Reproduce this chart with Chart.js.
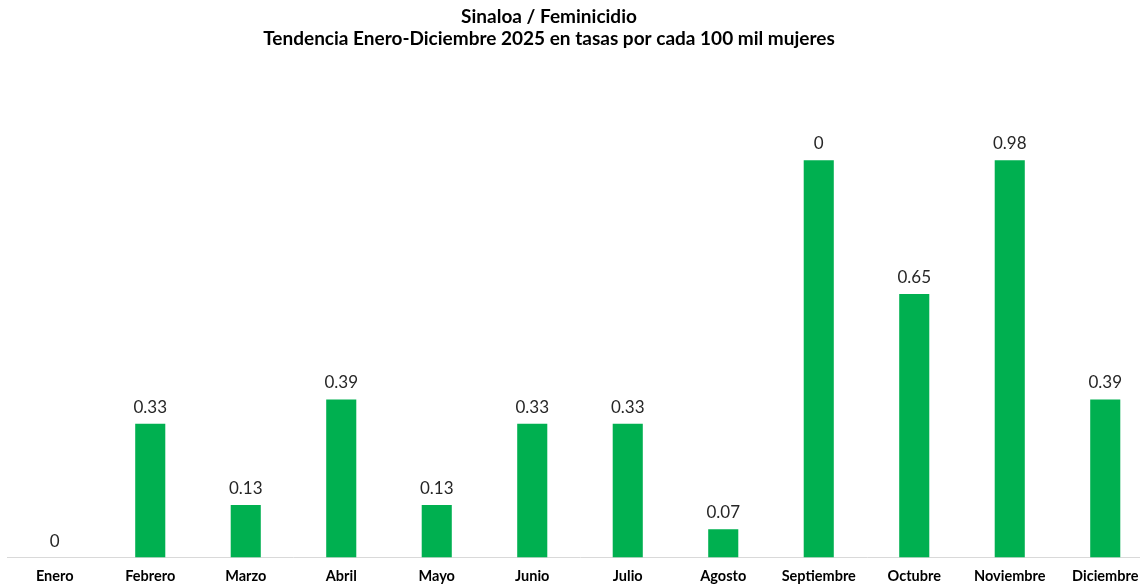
<!DOCTYPE html>
<html>
<head>
<meta charset="utf-8">
<script src="https://cdn.jsdelivr.net/npm/chart.js@4.4.1/dist/chart.umd.min.js"></script>
<style>
    html, body { margin: 0; padding: 0; background: #fff; overflow: hidden; }
    #wrap { position: relative; width: 1154px; height: 584px; }
</style>
</head>
<body>
<div id="wrap"><canvas id="barChart"></canvas></div>
<script>
// Data
const titleLines = ['Sinaloa / Feminicidio', 'Tendencia Enero-Diciembre 2025 en tasas por cada 100 mil mujeres'];
const months = ['Enero', 'Febrero', 'Marzo', 'Abril', 'Mayo', 'Junio', 'Julio', 'Agosto', 'Septiembre', 'Octubre', 'Noviembre', 'Diciembre'];
const rates = [0, 0.33, 0.13, 0.39, 0.13, 0.33, 0.33, 0.07, 0.98, 0.65, 0.98, 0.39];
// labels as printed above the bars (Septiembre is printed as 0)
const rateLabels = ['0', '0.33', '0.13', '0.39', '0.13', '0.33', '0.33', '0.07', '0', '0.65', '0.98', '0.39'];

const barColor = '#00b050';
const textColor = '#262626';

// Draws the two-line title and the value labels
const annotatePlugin = {
    id: 'annotate',
    afterDatasetsDraw(chart) {
        const ctx = chart.ctx;
        const meta = chart.getDatasetMeta(0);
        ctx.save();
        ctx.fillStyle = textColor;
        ctx.textAlign = 'center';
        ctx.textBaseline = 'bottom';
        ctx.font = '17px Lato, "Open Sans", sans-serif';
        meta.data.forEach((bar, i) => {
            ctx.fillText(rateLabels[i], bar.x, bar.y - 8);
        });

        ctx.fillStyle = '#000';
        ctx.textBaseline = 'middle';
        ctx.font = 'bold 19px Lato, "Open Sans", sans-serif';
        titleLines.forEach((line, i) => {
            ctx.fillText(line, 549, 17 + i * 22);
        });
        ctx.restore();
    }
};

new Chart(document.getElementById('barChart').getContext('2d'), {
    type: 'bar',
    data: {
        labels: months,
        datasets: [{
            data: rates,
            backgroundColor: barColor,
            borderWidth: 0,
            categoryPercentage: 1,
            barPercentage: 0.315
        }]
    },
    options: {
        responsive: true,
        maintainAspectRatio: false,
        animation: false,
        layout: {
            padding: { top: 71, left: 7, right: 1, bottom: -11 }
        },
        scales: {
            x: {
                grid: { display: false, drawTicks: false },
                border: { display: true, color: '#d9d9d9', width: 1 },
                ticks: {
                    color: '#000',
                    padding: 10,
                    maxRotation: 0,
                    autoSkip: false,
                    font: { family: 'Lato, "Open Sans", sans-serif', size: 14.5, weight: 'bold' }
                }
            },
            y: {
                display: false,
                min: 0,
                max: 1.2
            }
        },
        plugins: {
            legend: { display: false },
            title: { display: false },
            tooltip: { enabled: false }
        }
    },
    plugins: [annotatePlugin]
});
</script>
</body>
</html>
